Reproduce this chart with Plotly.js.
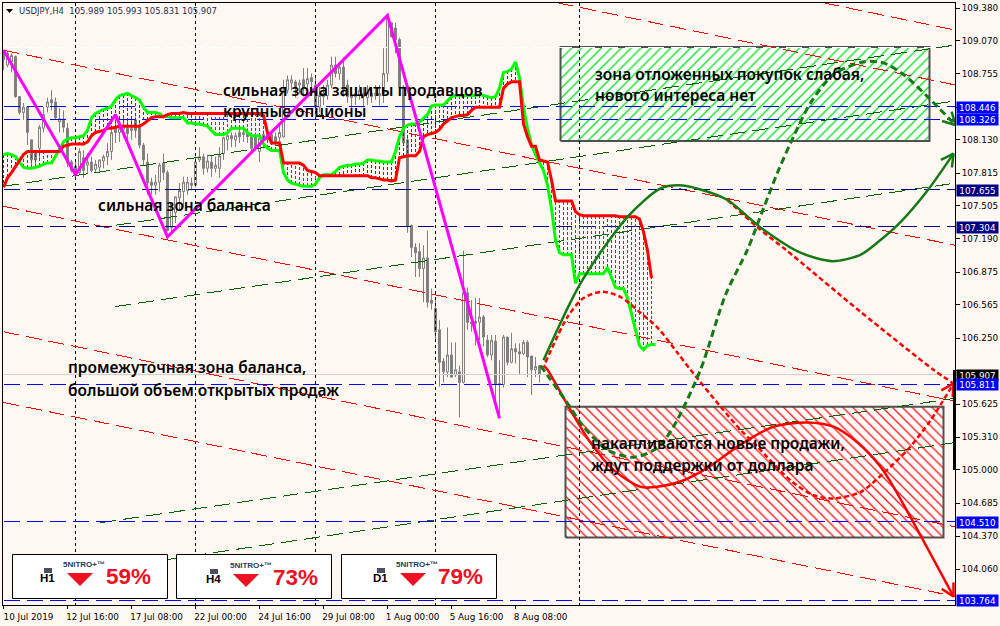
<!DOCTYPE html>
<html><head><meta charset="utf-8">
<script src="https://cdn.plot.ly/plotly-3.0.1.min.js"></script>
<style>html,body{margin:0;padding:0;background:#FFF8F2}#c{width:1000px;height:626px}</style>
</head><body><div id="c"></div>
<script>
const opens=[108.98,108.84,108.87,108.92,108.54,108.39,108.44,108.13,108.02,108.05,108.24,108.44,108.51,108.49,108.30,108.33,108.24,107.92,107.88,107.82,107.96,107.89,107.92,107.85,107.87,107.93,107.97,108.02,108.24,108.20,108.23,108.24,108.22,108.32,108.25,108.08,107.92,107.73,107.70,107.73,107.91,107.82,107.30,107.44,107.58,107.64,107.65,107.72,107.70,107.94,107.97,107.86,107.92,107.86,107.86,108.00,108.13,108.17,108.13,108.20,108.18,108.20,108.16,108.16,108.02,108.18,108.20,108.18,108.16,108.15,108.16,108.60,108.67,108.68,108.65,108.70,108.66,108.72,108.65,108.44,108.57,108.55,108.65,108.84,108.76,108.82,108.65,108.55,108.54,108.55,108.57,108.53,108.57,108.55,108.57,108.57,108.76,109.24,109.19,109.08,108.63,108.13,107.32,107.11,107.07,106.91,107.01,106.61,106.53,106.33,106.03,105.93,106.09,105.90,105.93,105.83,106.68,106.40,106.41,106.40,106.45,106.23,106.09,106.22,105.82,105.81,106.26,106.02,106.15,106.12,106.10,106.21,106.08,105.95,105.989];
const highs=[108.98,108.97,108.95,108.93,108.54,108.48,108.44,108.13,108.03,108.27,108.44,108.53,108.60,108.53,108.43,108.41,108.29,107.94,107.92,108.05,108.03,108.00,107.97,107.94,107.94,107.99,108.10,108.27,108.37,108.30,108.34,108.32,108.35,108.35,108.32,108.10,108.00,107.77,107.80,107.91,108.00,107.84,107.53,107.59,107.72,107.78,107.78,107.77,107.97,108.06,108.00,107.99,107.99,107.97,108.06,108.16,108.22,108.20,108.20,108.24,108.24,108.24,108.20,108.20,108.18,108.22,108.24,108.22,108.20,108.29,108.70,108.74,108.74,108.70,108.70,108.81,108.81,108.76,108.74,108.63,108.65,108.70,108.92,108.92,108.87,108.91,108.70,108.63,108.63,108.65,108.63,108.65,108.62,108.65,108.65,109.00,109.31,109.25,109.24,109.10,108.65,108.15,107.32,107.15,107.15,107.13,107.27,106.72,106.61,106.42,106.06,106.35,106.21,106.21,105.99,107.08,106.73,106.61,106.63,106.63,106.47,106.28,106.28,106.28,106.04,106.28,106.26,106.30,106.20,106.20,106.23,106.23,106.08,106.07,105.993];
const lows=[108.79,108.82,108.77,108.53,108.37,108.32,108.08,107.86,107.89,107.96,108.20,108.39,108.41,108.32,108.20,108.20,107.87,107.82,107.78,107.80,107.77,107.82,107.82,107.82,107.82,107.86,107.89,107.94,108.10,108.11,108.15,108.10,108.13,108.15,108.05,107.89,107.61,107.61,107.61,107.64,107.75,107.26,107.25,107.34,107.46,107.49,107.61,107.65,107.68,107.92,107.80,107.82,107.78,107.82,107.77,107.94,108.03,108.06,108.06,108.10,108.11,108.10,108.02,108.03,107.92,108.05,108.10,108.08,108.07,108.10,108.15,108.57,108.60,108.53,108.57,108.54,108.57,108.60,108.41,108.39,108.46,108.51,108.62,108.72,108.70,108.54,108.48,108.39,108.46,108.51,108.44,108.46,108.48,108.51,108.46,108.48,108.68,109.10,108.95,108.60,108.08,107.25,107.02,106.83,106.83,106.59,106.54,106.52,106.23,105.79,105.83,105.88,105.88,105.88,105.50,105.82,106.33,106.31,106.18,106.23,106.17,106.07,106.04,105.64,105.49,105.78,105.99,106.01,106.01,105.90,106.09,105.88,105.71,105.88,105.831];
const closes=[108.89,108.95,108.93,108.54,108.39,108.44,108.20,107.94,107.94,108.25,108.37,108.49,108.48,108.34,108.33,108.25,107.91,107.84,107.80,108.02,107.84,107.92,107.84,107.90,107.94,107.97,108.02,108.20,108.20,108.24,108.27,108.19,108.24,108.22,108.08,107.94,107.72,107.70,107.73,107.89,107.82,107.27,107.53,107.59,107.65,107.73,107.73,107.70,107.92,107.97,107.86,107.93,107.86,107.89,107.98,108.15,108.17,108.14,108.17,108.16,108.20,108.16,108.05,108.05,108.15,108.13,108.13,108.11,108.10,108.20,108.60,108.70,108.70,108.62,108.67,108.62,108.71,108.68,108.44,108.55,108.54,108.65,108.84,108.76,108.82,108.60,108.54,108.53,108.57,108.60,108.54,108.58,108.54,108.57,108.55,108.76,109.31,109.11,109.08,108.63,108.10,107.31,107.11,107.06,106.91,107.01,106.59,106.58,106.31,106.02,105.93,106.09,105.88,105.95,105.83,106.68,106.40,106.39,106.39,106.45,106.26,106.09,106.23,105.81,105.81,106.26,106.02,106.15,106.12,106.10,106.21,106.07,105.95,105.98,105.907];

const spanA=[107.99,108.00,107.99,107.97,107.92,107.87,107.86,107.86,107.87,107.88,107.90,107.91,107.91,107.97,108.04,108.11,108.14,108.15,108.15,108.16,108.17,108.22,108.34,108.38,108.40,108.42,108.43,108.45,108.51,108.55,108.56,108.57,108.55,108.53,108.51,108.44,108.39,108.39,108.39,108.38,108.35,108.35,108.34,108.34,108.34,108.34,108.29,108.29,108.28,108.28,108.27,108.26,108.22,108.18,108.18,108.18,108.20,108.24,108.24,108.24,108.24,108.20,108.17,108.17,108.17,108.09,108.05,108.03,108.03,108.03,107.82,107.75,107.72,107.71,107.70,107.69,107.69,107.69,107.71,107.77,107.80,107.80,107.80,107.83,107.87,107.88,107.89,107.89,107.90,107.90,107.91,107.94,107.94,107.93,107.93,107.92,107.92,107.92,108.02,108.16,108.24,108.27,108.28,108.28,108.30,108.34,108.37,108.45,108.46,108.46,108.46,108.50,108.54,108.55,108.55,108.55,108.55,108.55,108.55,108.56,108.55,108.54,108.53,108.54,108.62,108.77,108.78,108.80,108.87,108.72,108.44,108.24,108.08,107.99,107.92,107.84,107.70,107.48,107.18,107.06,107.04,107.04,107.04,106.77,106.86,106.86,106.86,106.86,106.86,106.86,106.86,106.92,106.82,106.73,106.72,106.72,106.63,106.47,106.31,106.18,106.14,106.18,106.19,106.19];
const spanB=[107.68,107.77,107.82,107.88,107.94,107.99,108.02,108.02,108.02,108.02,108.02,108.02,108.02,108.02,108.02,108.07,108.08,108.09,108.09,108.09,108.09,108.11,108.17,108.20,108.21,108.22,108.24,108.24,108.25,108.26,108.26,108.26,108.26,108.26,108.26,108.28,108.31,108.34,108.35,108.35,108.35,108.37,108.38,108.38,108.38,108.39,108.38,108.38,108.38,108.38,108.38,108.38,108.38,108.38,108.38,108.38,108.38,108.38,108.38,108.38,108.38,108.38,108.38,108.38,108.38,108.36,108.20,108.10,108.10,108.10,107.91,107.91,107.91,107.91,107.91,107.89,107.84,107.83,107.82,107.79,107.79,107.79,107.79,107.79,107.79,107.79,107.79,107.79,107.79,107.79,107.79,107.79,107.77,107.77,107.76,107.75,107.75,107.74,107.75,107.96,107.97,107.98,107.98,107.98,108.02,108.16,108.18,108.19,108.20,108.23,108.28,108.31,108.34,108.35,108.36,108.36,108.37,108.41,108.44,108.44,108.44,108.44,108.44,108.44,108.44,108.62,108.66,108.68,108.68,108.68,108.28,108.16,108.07,108.07,107.94,107.93,107.92,107.75,107.55,107.55,107.55,107.55,107.55,107.45,107.42,107.41,107.41,107.41,107.41,107.41,107.41,107.41,107.41,107.41,107.40,107.40,107.40,107.40,107.40,107.38,107.26,107.08,106.82];

const zigzagBars=[0,18,28,41,96,124];
const zigzagPrices=[108.98,107.80,108.37,107.21,109.31,105.49];

const xTickBars=[0,16,32,48,64,80,96,112,128];
const xTickLabels=['10 Jul 2019','12 Jul 16:00','17 Jul 08:00','22 Jul 00:00','24 Jul 16:00','29 Jul 08:00','1 Aug 00:00','5 Aug 16:00','8 Aug 08:00'];
const priceTicks=[109.38,109.07,108.755,108.44,108.13,107.815,107.505,107.19,106.875,106.565,106.25,105.94,105.625,105.31,105.0,104.685,104.37,104.06];
const priceTickLabels=['109.380','109.070','108.755','','108.130','107.815','107.505','107.190','106.875','106.565','106.250','','105.625','105.310','105.000','104.685','104.370','104.060'];

const blueLevels=[108.446,108.326,105.811,104.510,103.764];
const navyLevels=[107.655,107.304];
const currentPrice=105.907;
const whiteLevel=109.01;
const sessionBars=[18,48,78,108,144];

const redTrends=[[0,108.98,238,107.13],[138.5,109.43,238,108.65],[205,109.43,238,109.17],[0,107.50,238,105.65],[0,106.31,238,104.46],[0,105.64,238,103.80]];
const greenTrends=[[0,107.69,238,109.03],[28,107.32,238,108.50],[28,106.55,238,107.72],[24.25,104.50,238,105.68],[41,104.15,238,105.26]];

const greenZoneBars=[139.25,231.5], greenZonePrices=[108.12,109.01];
const redZoneBars=[140.5,235], redZonePrices=[104.36,105.60];

const curveGreenSolidX=[135,144.25,156,164.25,168.75,174.25,181,189.25,199.25,207.25,214.25,219.25,224.25,231,237.5];
const curveGreenSolidY=[106.04,106.77,107.40,107.67,107.70,107.66,107.56,107.30,107.06,106.98,107.04,107.18,107.35,107.65,108.00];
const curveGreenDashX=[134.25,141.75,145,151,157.5,163.5,167.5,174.25,180.5,186,190,193.5,197.5,201.75,207.5,215,220,225,231,238];
const curveGreenDashY=[105.99,105.59,105.41,105.19,105.12,105.21,105.41,105.95,106.66,107.09,107.48,107.82,108.16,108.48,108.75,108.87,108.86,108.75,108.54,108.27];
const curveRedSolidX=[135,136,141.25,146.75,152.5,159.25,163.5,169.25,176,184.25,192.5,201,207.5,213.5,219.25,222.5,237.5];
const curveRedSolidY=[105.99,105.95,105.60,105.26,105.00,104.84,104.84,104.89,105.02,105.24,105.41,105.45,105.41,105.26,105.03,104.84,103.80];
const curveRedDashX=[135.5,141,145,149.75,154.25,159.25,163.5,168.5,171.75,179.25,184.25,188.5,196.75,202.5,207.5,214.25,220,226,231.75,237.5];
const curveRedDashY=[106.02,106.45,106.63,106.69,106.64,106.49,106.35,106.11,105.95,105.60,105.38,105.22,104.90,104.76,104.73,104.79,104.97,105.19,105.47,105.82];
const curveRedDash2X=[181,188.5,195.5,214.25,232.5,237.5];
const curveRedDash2Y=[107.56,107.30,107.09,106.50,105.95,105.82];

const bars=opens.map((_,i)=>i), spanBars=spanA.map((_,i)=>i);
const BG='#FFF8F2', GRAY='#7F7F7F';
const LEFT=3,RIGHT=955,TOP=3,BOTTOM=605;
const pxX=x=>(x-LEFT)/(RIGHT-LEFT), pxY=y=>(BOTTOM-y)/(BOTTOM-TOP);
const PRICE_PER_PX=(109.428-103.719)/(BOTTOM-TOP), PX_PER_BAR=4;

const dashM='16px,7px';
function segs(list,color){const x=[],y=[];list.forEach(s=>{x.push(s[0],s[2],null);y.push(s[1],s[3],null);});
  return {type:'scatter',mode:'lines',x,y,line:{color,width:1,dash:dashM},hoverinfo:'skip',crisp:1};}
function zone(xs,ys,color,shape){return {type:'scatter',mode:'lines',x:[xs[0],xs[1],xs[1],xs[0],xs[0]],y:[ys[0],ys[0],ys[1],ys[1],ys[0]],
  fill:'toself',fillcolor:BG,fillpattern:{shape,fgcolor:color,bgcolor:'#FFFDFB',size:7,solidity:0.18},line:{color:'#505050',width:2},hoverinfo:'skip'};}
function hatch(cond,color){const x=[],y=[];spanBars.forEach(i=>{if(cond(spanA[i],spanB[i])){x.push(i,i,null);y.push(spanA[i],spanB[i],null);}});
  return {type:'scatter',mode:'lines',x,y,line:{color,width:1,dash:'3px,2px'},hoverinfo:'skip',crisp:1};}
function curve(xs,ys,color,width,dash){const n=xs.length;
  return {type:'scatter',mode:'lines',x:xs,y:ys,cliponaxis:false,line:{color,width,dash,shape:'spline',smoothing:0.8},hoverinfo:'skip'};}
function arrowHead(xs,ys,color){const n=xs.length,tx=xs[n-1],ty=ys[n-1];
  const dx=(tx-xs[n-2])*PX_PER_BAR,dy=(ty-ys[n-2])/PRICE_PER_PX,base=Math.atan2(dy,dx),L=14,W=0.5;
  const barb=a=>[tx-Math.cos(base+a)*L/PX_PER_BAR,ty-Math.sin(base+a)*L*PRICE_PER_PX];
  const l=barb(W),r=barb(-W);
  return {type:'scatter',mode:'lines',x:[l[0],tx,r[0]],y:[l[1],ty,r[1]],cliponaxis:false,line:{color,width:2.5},hoverinfo:'skip'};}
function hline(levels,color,dash,width){const x=[],y=[];levels.forEach(v=>{x.push(0,238,null);y.push(v,v,null);});
  return {type:'scatter',mode:'lines',x,y,line:{color,width:width||1,dash},hoverinfo:'skip',crisp:1};}
const vx=[],vy=[];sessionBars.forEach(b=>{vx.push(b,b,null);vy.push(103.71,109.43,null);});

const traces=[
  zone(greenZoneBars,greenZonePrices,'#00E020','/'),
  zone(redZoneBars,redZonePrices,'#FF1010','\\'),
  hline([whiteLevel],'#FFFFFF',dashM),
  hline([currentPrice],'#D4CFCB','solid'),
  {type:'scatter',mode:'lines',x:vx,y:vy,line:{color:'#000000',width:1,dash:'3px,3px'},hoverinfo:'skip',crisp:1},
  {type:'candlestick',x:bars,open:opens,high:highs,low:lows,close:closes,
    increasing:{line:{color:GRAY,width:1},fillcolor:BG},decreasing:{line:{color:GRAY,width:1},fillcolor:GRAY},whiskerwidth:0,hoverinfo:'skip'},
  segs(redTrends,'#FF0000'),
  segs(greenTrends,'#006400'),
  hline(blueLevels,'#0000FF',dashM),
  hline(navyLevels,'#000080',dashM),
  hatch((a,b)=>a>=b,'#006400'),
  hatch((a,b)=>a<b,'#FF0000'),
  {type:'scatter',mode:'lines',x:spanBars,y:spanA,line:{color:'#00FF00',width:3},hoverinfo:'skip'},
  {type:'scatter',mode:'lines',x:spanBars,y:spanB,line:{color:'#FF0000',width:3},hoverinfo:'skip'},
  {type:'scatter',mode:'lines',x:zigzagBars,y:zigzagPrices,line:{color:'#FF00FF',width:3},hoverinfo:'skip'},
  curve(curveRedDash2X,curveRedDash2Y,'#FF0000',2.5,'5px,3px'),
  curve(curveRedDashX,curveRedDashY,'#FF0000',2.5,'5px,3px'),
  arrowHead(curveRedDashX,curveRedDashY,'#FF0000'),
  curve(curveRedSolidX,curveRedSolidY,'#FF0000',2.5,'solid'),
  arrowHead(curveRedSolidX,curveRedSolidY,'#FF0000'),
  curve(curveGreenDashX,curveGreenDashY,'#157A15',3,'7px,4px'),
  arrowHead(curveGreenDashX,curveGreenDashY,'#157A15'),
  curve(curveGreenSolidX,curveGreenSolidY,'#157A15',2.5,'solid'),
  arrowHead(curveGreenSolidX,curveGreenSolidY,'#157A15')
];
const crispFlags=traces.filter(t=>t.type==='scatter').map(t=>!!t.crisp);
traces.forEach(t=>{delete t.crisp;});

const AXF='DejaVu Sans', NOTE='Noto Sans', AXS=8.8;
function note(text,x,y){return {xref:'paper',yref:'paper',x:pxX(x),y:pxY(y),xanchor:'left',yanchor:'middle',showarrow:false,borderpad:0,borderwidth:0,text,
  font:{family:NOTE,size:15.5,color:'#000000',weight:600}};}
function priceTag(text,y,bg){return {xref:'paper',yref:'paper',x:pxX(956),y:pxY(y),xanchor:'left',yanchor:'middle',showarrow:false,text,
  width:41,height:11,bgcolor:bg,borderpad:0,align:'center',font:{family:AXF,size:AXS,color:'#FFFFFF'}};}
function ptxt(text,x,y,font,xa){return {xref:'paper',yref:'paper',x:pxX(x),y:pxY(y),xanchor:xa||'center',yanchor:'middle',showarrow:false,borderpad:0,text,font};}

const annotations=[
  note('сильная зона защиты продавцов',223,90),
  note('крупные опционы',223,111),
  note('сильная зона баланса',98,205),
  note('промежуточная зона баланса,',68,367),
  note('большой объем открытых продаж',68,390),
  note('зона отложенных покупок слабая,',595,74),
  note('нового интереса нет',595,95),
  note('накапливаются новые продажи,',591,443),
  note('ждут поддержки от доллара',591,465),
  priceTag('108.446',107,'#0000FF'),priceTag('108.326',119,'#0000FF'),
  priceTag('107.655',190,'#000080'),priceTag('107.304',227,'#000080'),
  priceTag('105.907',375,'#000000'),priceTag('105.811',384,'#0000FF'),
  priceTag('104.510',522,'#0000FF'),priceTag('103.764',600,'#0000FF'),
  ptxt('USDJPY,H4  105.989 105.993 105.831 105.907',18,11,{family:AXF,size:8.45,color:'#1F2F4F'},'left')
];
const shapes=[
  {type:'path',xref:'paper',yref:'paper',path:`M${pxX(6)},${pxY(9)} L${pxX(13)},${pxY(9)} L${pxX(9.5)},${pxY(13)} Z`,fillcolor:'#000',line:{width:0}},
  {type:'rect',xref:'paper',yref:'paper',x0:pxX(953),x1:pxX(956),y0:pxY(470),y1:pxY(370),fillcolor:'#000000',line:{width:0}}
];
const panels=[
 {x0:12,x1:167,tf:'H1',tx:47,ic:44,nx:84,ty:578,ny:564,tri:67,pct:'59%',px:128,py:576,dy:0},
 {x0:176,x1:331,tf:'H4',tx:213,ic:210,nx:251,ty:579,ny:565,tri:233,pct:'73%',px:295,py:577,dy:1},
 {x0:341,x1:496,tf:'D1',tx:380,ic:377,nx:417,ty:578,ny:564,tri:400,pct:'79%',px:460,py:576,dy:0}
];
panels.forEach(p=>{
  shapes.push({type:'rect',xref:'paper',yref:'paper',x0:pxX(p.x0+.5),x1:pxX(p.x1+.5),y0:pxY(598.5),y1:pxY(554.5),fillcolor:'#FFFFFF',line:{color:'#000000',width:1}});
  shapes.push({type:'rect',xref:'paper',yref:'paper',x0:pxX(p.ic),x1:pxX(p.ic+8),y0:pxY(573+p.dy),y1:pxY(568+p.dy),fillcolor:'#4A5060',line:{width:0}});
  shapes.push({type:'path',xref:'paper',yref:'paper',path:`M${pxX(p.tri)},${pxY(573+p.dy)} L${pxX(p.tri+26)},${pxY(573+p.dy)} L${pxX(p.tri+13)},${pxY(586+p.dy)} Z`,fillcolor:'#EE1122',line:{width:0}});
  annotations.push(ptxt(p.tf,p.tx,p.ty,{family:'Liberation Sans',size:11.5,color:'#000000',weight:700}));
  annotations.push(ptxt('5NITRO+™',p.nx,p.ny,{family:'Liberation Sans',size:8,color:'#2A3A5A',weight:700}));
  annotations.push(ptxt(p.pct,p.px,p.py,{family:'Liberation Sans',size:22.5,color:'#EE1122',weight:700}));
});

const layout={width:1000,height:626,margin:{l:LEFT,r:1000-RIGHT,t:TOP,b:626-BOTTOM},
  paper_bgcolor:BG,plot_bgcolor:BG,showlegend:false,hovermode:false,dragmode:false,
  xaxis:{range:[-0.125,237.875],rangeslider:{visible:false},tickmode:'array',tickvals:xTickBars,ticktext:xTickLabels,ticks:'outside',ticklen:3,tickcolor:'#000',tickwidth:1,
    ticklabelshift:25,tickfont:{family:AXF,size:AXS,color:'#000000'},showgrid:false,zeroline:false,showline:true,linecolor:'#000',linewidth:1,mirror:true,automargin:false},
  yaxis:{range:[103.719,109.428],side:'right',tickmode:'array',tickvals:priceTicks,ticktext:priceTickLabels,ticks:'outside',ticklen:4,tickcolor:'#000',tickwidth:1,
    tickfont:{family:AXF,size:AXS,color:'#000000'},showgrid:false,zeroline:false,showline:true,linecolor:'#000',linewidth:1,mirror:true,automargin:false},
  shapes,annotations};
Plotly.newPlot('c',traces,layout,{displayModeBar:false,staticPlot:true}).then(()=>{
  document.querySelectorAll('.scatterlayer .trace').forEach((g,k)=>{if(crispFlags[k])g.style.shapeRendering='crispEdges';});
});
</script></body></html>
